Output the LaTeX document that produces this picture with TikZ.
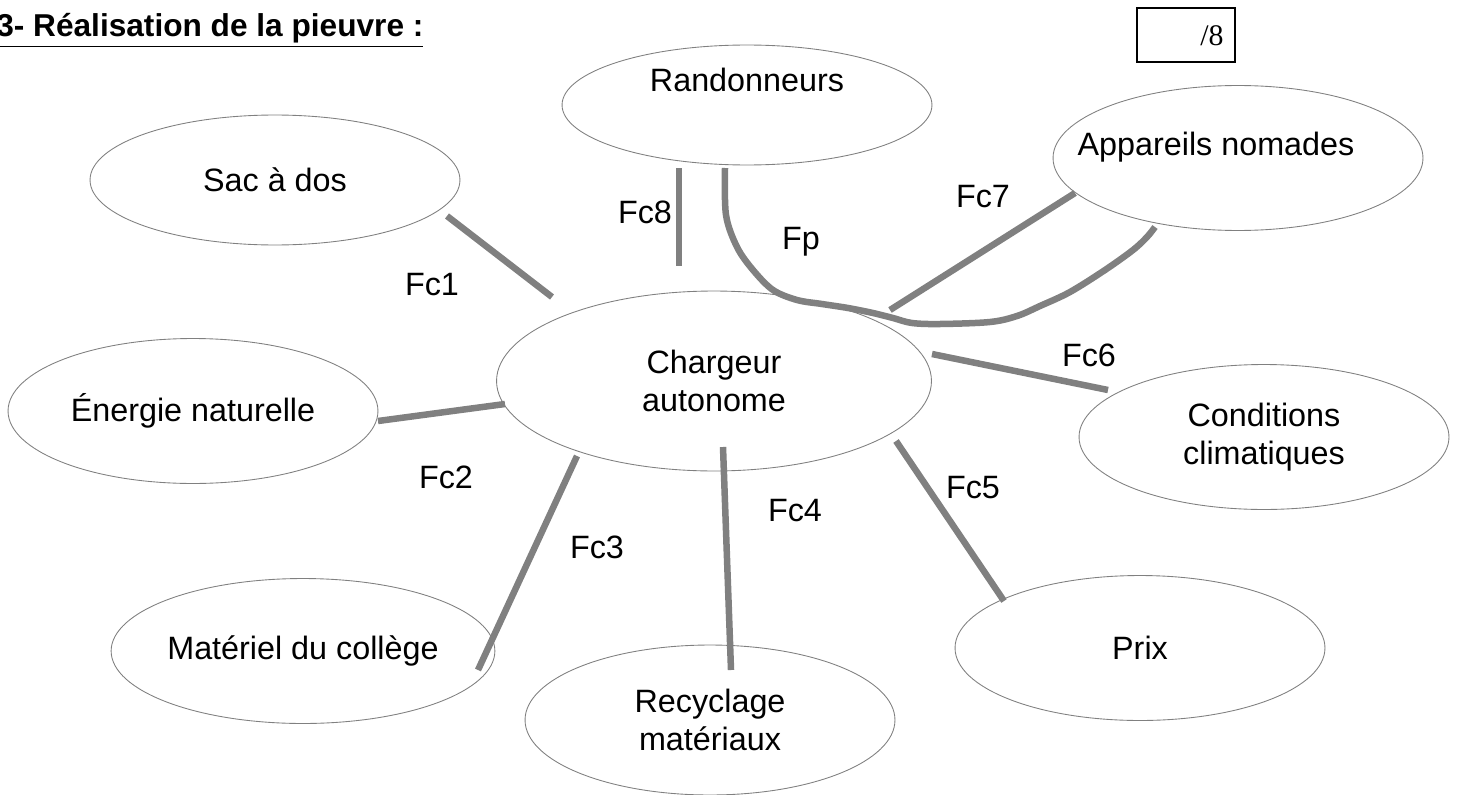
\documentclass[tikz,border=0pt]{standalone}
\usepackage{fontspec}
\setmainfont{Liberation Sans}
\newfontfamily\serifnum{Liberation Serif}
\usetikzlibrary{shapes.geometric, positioning}

\tikzset{
    bulle/.style={draw=gray, line width=0.5pt, ellipse, inner sep=0pt,
        minimum width=7.4cm, minimum height=2.9cm, align=center,
        font=\fontsize{18.4}{21.5}\selectfont},
    lien/.style={draw=gray, line width=3.7pt},
    etiq/.style={font=\fontsize{18.4}{21.5}\selectfont}
}

\begin{document}
\begin{tikzpicture}[x=0.02cm, y=-0.02cm]
        \useasboundingbox (0,0) rectangle (1459,794);

        % titre et note
        \node[anchor=base west, inner sep=0pt, font=\fontsize{18}{21}\selectfont\bfseries]
            (nTitre) at (-4,37) {\underline{3- Réalisation de la pieuvre :}};
        \draw[line width=0.6pt] (1137,8) rectangle (1235,62);
        \node[font=\serifnum\fontsize{17}{20}\selectfont] (nNote) at (1212,36) {/8};

        % les bulles
        \node[bulle, minimum height=2.4cm] (nRand) at (747,105) {};
        \node[etiq] at (747,80) {Randonneurs};
        \node[bulle, minimum height=2.9cm] (nAppa) at (1238,158) {};
        \node[etiq] at (1216,147) {Appareils nomades};
        \node[bulle, minimum height=2.6cm] (nSac) at (275,180) {Sac à dos};
        \node[bulle, minimum width=8.7cm, minimum height=3.6cm] (nChrg) at (714,381) {Chargeur\\autonome};
        \node[bulle] (nEner) at (193,411) {Énergie naturelle};
        \node[bulle] (nClim) at (1264,437) {Conditions\\climatiques};
        \node[bulle] (nMate) at (303,651) {Matériel du collège};
        \node[bulle] (nPrix) at (1140,648) {Prix};
        \node[bulle, minimum height=3cm] (nRecy) at (710,720) {Recyclage\\matériaux};

        % bouts des liens
        \coordinate (cF1a) at (447,216);  \coordinate (cF1b) at (552,297);
        \coordinate (cF2a) at (378,421);  \coordinate (cF2b) at (505,404);
        \coordinate (cF3a) at (478,670);  \coordinate (cF3b) at (577,456);
        \coordinate (cF4a) at (731,670);  \coordinate (cF4b) at (723,447);
        \coordinate (cF5a) at (1004,601); \coordinate (cF5b) at (896,441);
        \coordinate (cF6a) at (1108,390); \coordinate (cF6b) at (932,354);
        \coordinate (cF7a) at (1075,193); \coordinate (cF7b) at (890,310);
        \coordinate (cF8a) at (679,168);  \coordinate (cF8b) at (679,266);

        \foreach \a/\b in {cF1a/cF1b, cF2a/cF2b, cF3a/cF3b, cF4a/cF4b,
            cF5a/cF5b, cF6a/cF6b, cF7a/cF7b, cF8a/cF8b}
        {
            \draw[lien] (\a) -- (\b);
        };

        % fonction principale
        \draw[lien, smooth, tension=0.55] plot coordinates {
            (725,168) (726,215) (737,247) (753,270) (773,290) (797,300)
            (822,304) (848,308) (873,313) (893,318) (912,323) (940,324)
            (990,322) (1017,316) (1040,306) (1070,292) (1105,270)
            (1133,250) (1147,237) (1155,227)};

        % noms des fonctions
        \foreach \p/\t in {
            {(432,285)}/Fc1,
            {(446,477)}/Fc2,
            {(597,547)}/Fc3,
            {(795,511)}/Fc4,
            {(973,488)}/Fc5,
            {(1089,355)}/Fc6,
            {(983,197)}/Fc7,
            {(645,212)}/Fc8,
            {(801,242)}/Fp}
        {
            \node[etiq] at \p {\t};
        };
\end{tikzpicture}
\end{document}
